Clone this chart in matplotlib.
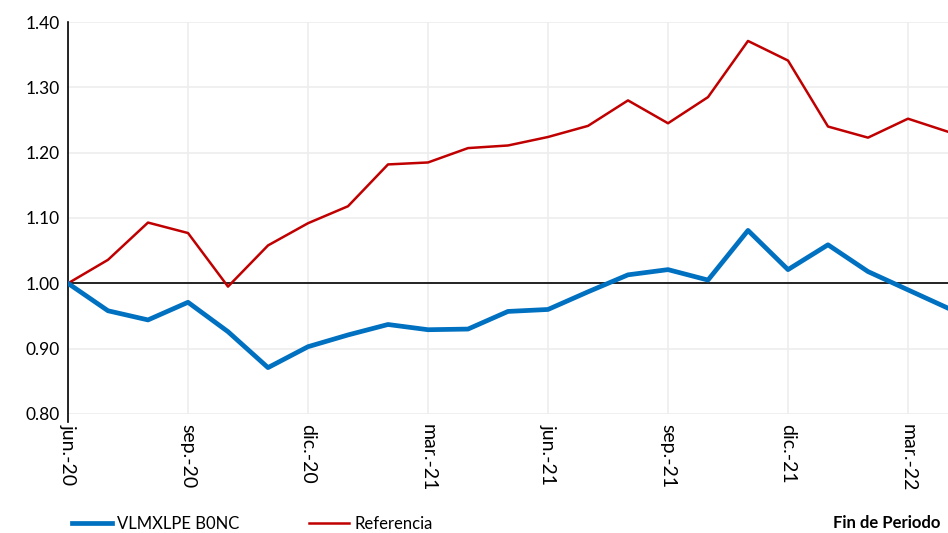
import matplotlib.pyplot as plt
import numpy as np

plt.rcParams['font.family'] = ['Lato', 'DejaVu Sans']

months = ['jun.-20', 'jul.-20', 'ago.-20', 'sep.-20', 'oct.-20', 'nov.-20', 'dic.-20',
          'ene.-21', 'feb.-21', 'mar.-21', 'abr.-21', 'may.-21', 'jun.-21', 'jul.-21',
          'ago.-21', 'sep.-21', 'oct.-21', 'nov.-21', 'dic.-21', 'ene.-22', 'feb.-22',
          'mar.-22', 'abr.-22']
fondo = [1.000, 0.958, 0.944, 0.971, 0.926, 0.871, 0.903, 0.921, 0.937, 0.929, 0.930,
         0.957, 0.960, 0.987, 1.013, 1.021, 1.005, 1.081, 1.021, 1.059, 1.018, 0.990, 0.962]
referencia = [1.000, 1.036, 1.093, 1.077, 0.995, 1.058, 1.092, 1.118, 1.182, 1.185, 1.207,
              1.211, 1.224, 1.241, 1.280, 1.245, 1.285, 1.371, 1.341, 1.240, 1.223, 1.252, 1.232]
yticks = [0.80, 0.90, 1.00, 1.10, 1.20, 1.30, 1.40]

x = np.arange(len(months))

fig = plt.figure(figsize=(9.48, 5.33), dpi=100)
ax = fig.add_axes([68 / 948, 1 - 414 / 533, 880 / 948, (414 - 22) / 533])

ax.plot(x, fondo, color='#0070C0', lw=3.4, zorder=4, label='VLMXLPE B0NC')
ax.plot(x, referencia, color='#C00000', lw=1.8, zorder=3, label='Referencia')
ax.axhline(1.0, color='black', lw=1.2, zorder=2)

ax.set_xlim(0, len(months) - 1)
ax.set_ylim(0.80, 1.40)
ax.set_yticks(yticks)
ax.set_yticklabels([f'{v:.2f}' for v in yticks], fontsize=12.5)
ax.set_xticks(x[::3])
ax.set_xticklabels(months[::3], rotation=270, fontsize=14, va='top', ha='center')
ax.tick_params(axis='x', length=0, pad=7)
ax.tick_params(axis='y', length=0, pad=6)

ax.grid(True, color='#EDEDED', lw=1.2)
ax.set_axisbelow(True)
for s in ['top', 'right', 'bottom']:
    ax.spines[s].set_visible(False)
ax.spines['left'].set_color('black')
ax.spines['left'].set_linewidth(1.2)
ax.spines['left'].set_bounds(0.788, 1.40)

fig.legend(loc='lower left', bbox_to_anchor=(62 / 948, -9 / 533), ncol=2, frameon=False,
           fontsize=12, handlelength=2.4, handletextpad=0.3, columnspacing=4.2,
           borderaxespad=0.2)
fig.text(940 / 948, 10 / 533, 'Fin de Periodo', ha='right', va='center', fontsize=12,
         fontweight='bold')

fig.savefig('out.png', dpi=100)
